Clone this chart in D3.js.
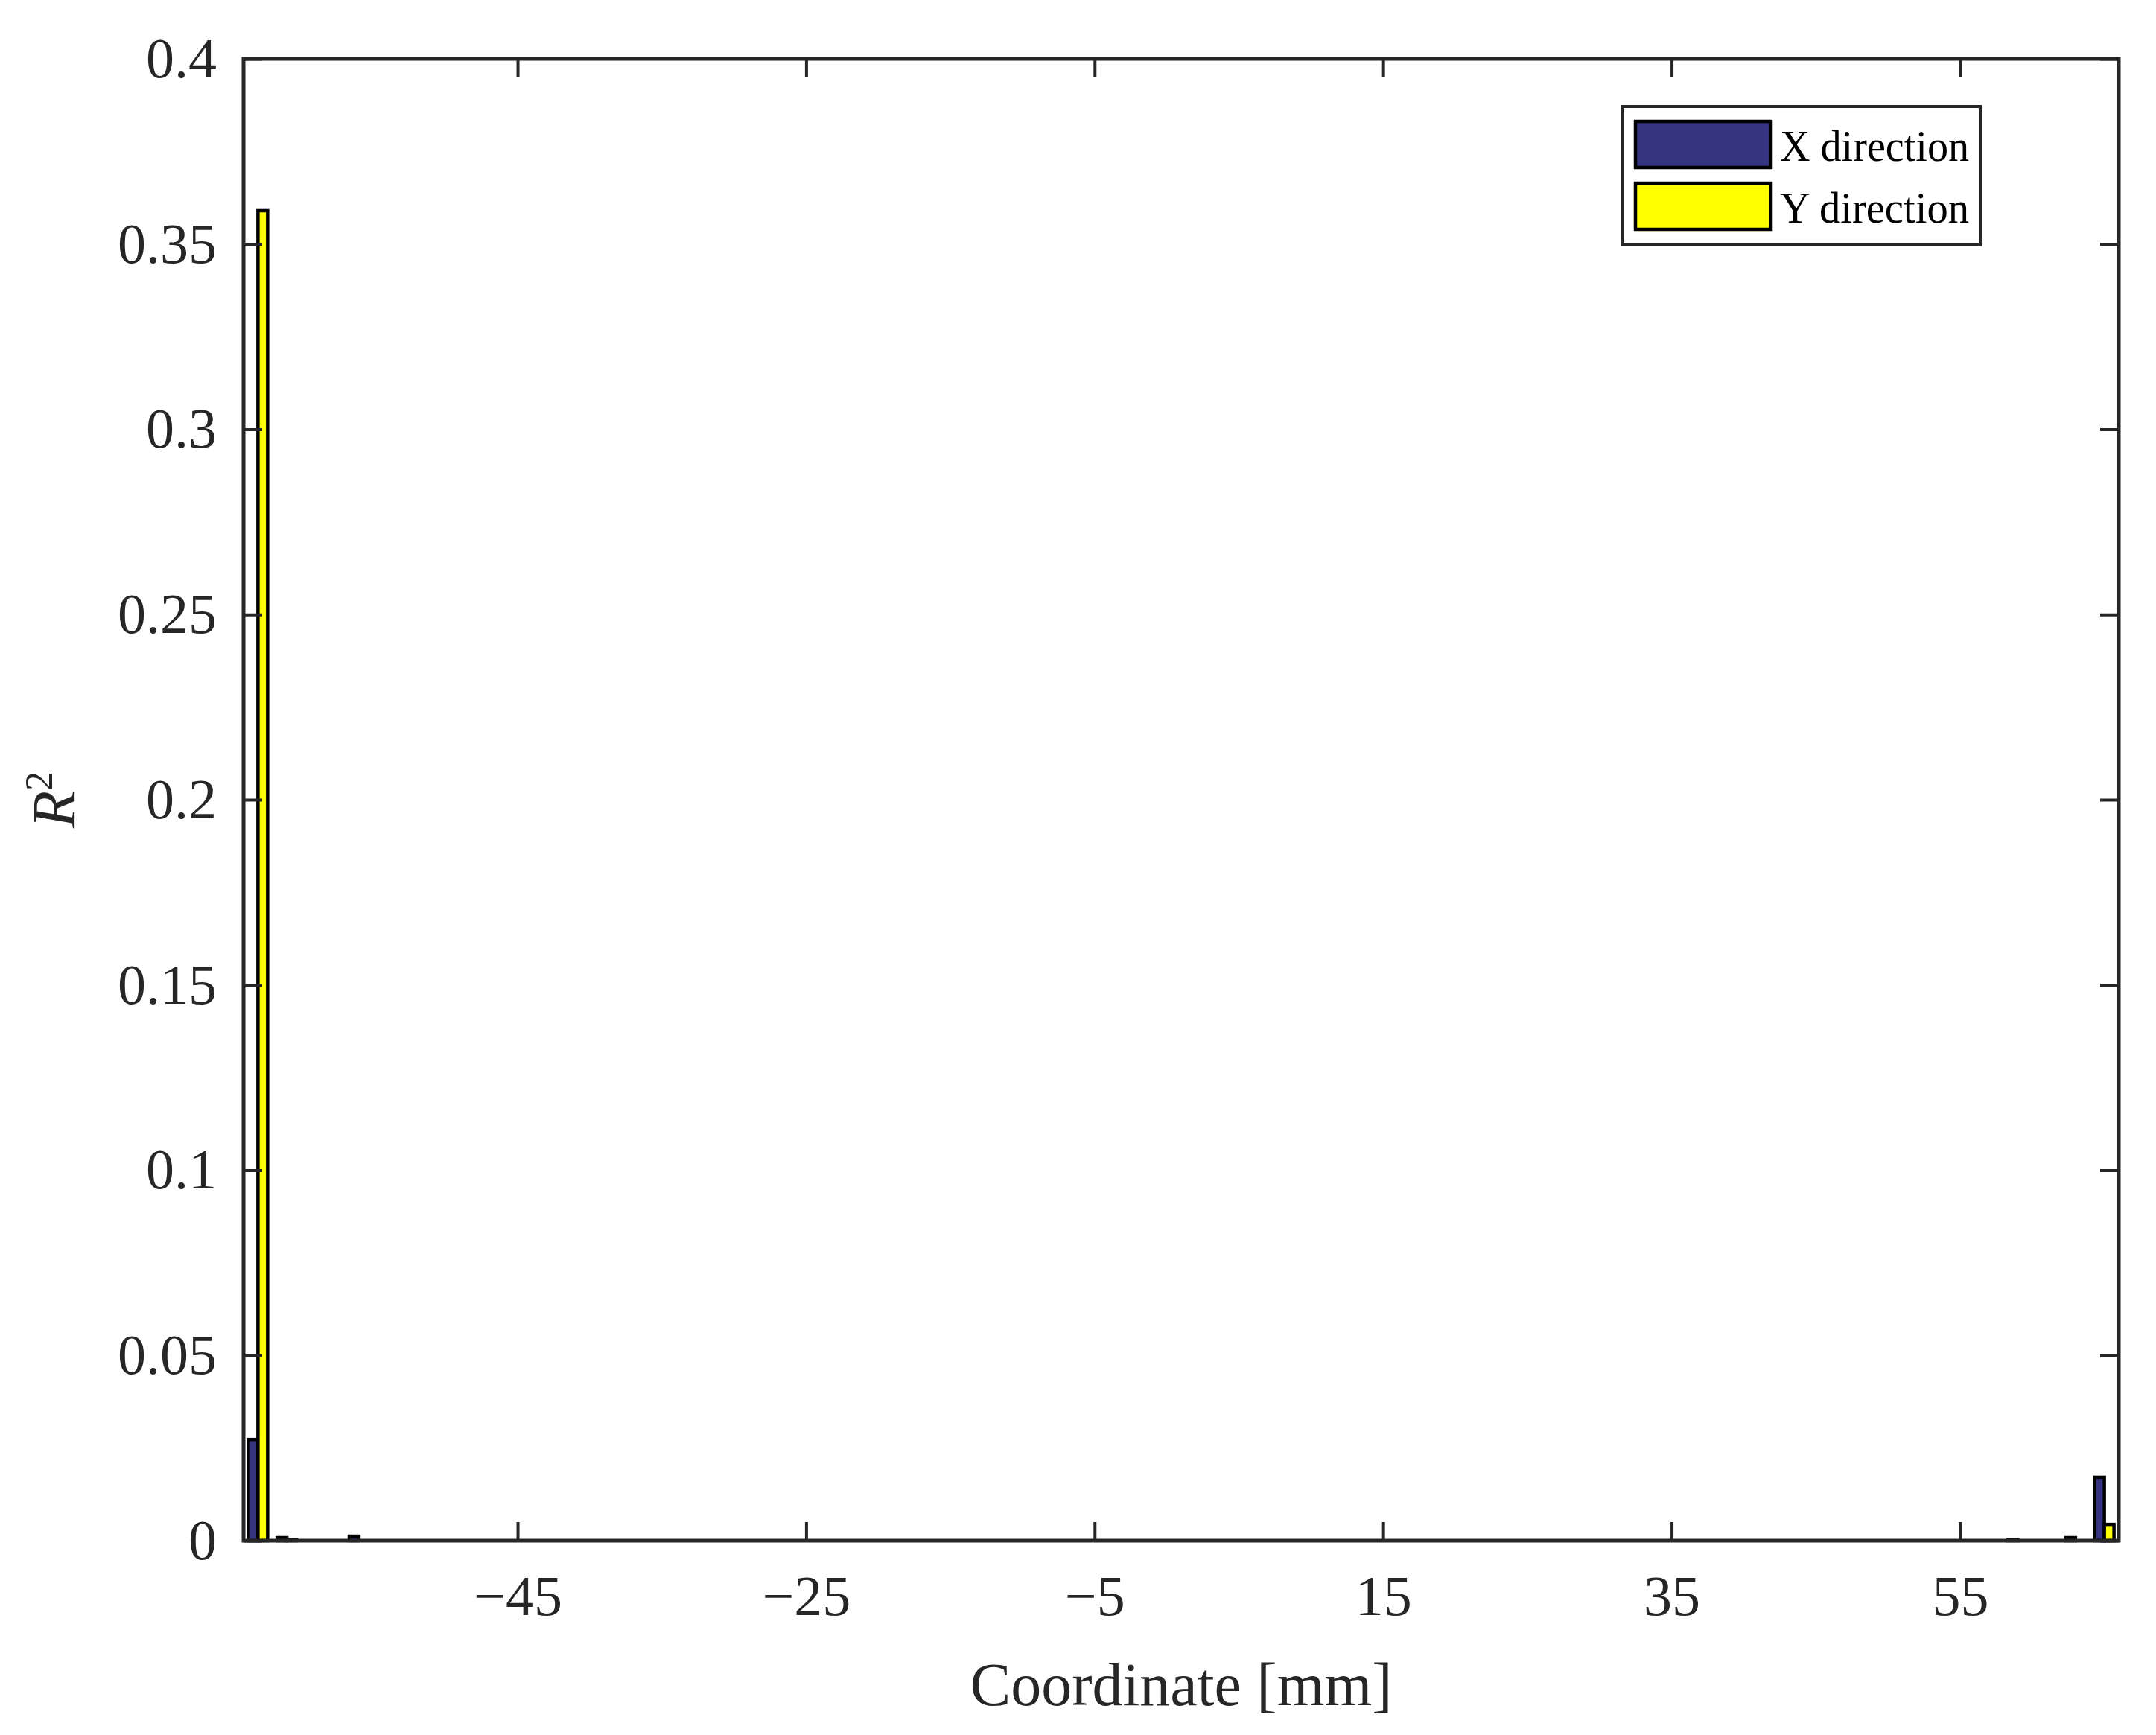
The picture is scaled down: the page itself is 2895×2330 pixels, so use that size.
<!DOCTYPE html>
<html>
<head>
<meta charset="utf-8">
<script src="https://cdn.jsdelivr.net/npm/d3@7"></script>
<style>
  body { margin: 0; background: #fff; }
  text { font-family: "Liberation Serif", "DejaVu Serif", serif; fill: #262626; }
</style>
</head>
<body>
<script>
// data
var coords = [-63, -61, -56, 59, 63, 65];
var xDir = [0.0273, 0.0008, 0.0012, 0.0003, 0.0008, 0.0171];
var yDir = [0.359, 0.0003, 0, 0, 0, 0.0044];
var seriesNames = ["X direction", "Y direction"];
var seriesColors = ["#35357f", "#ffff00"];
var xTicks = [-45, -25, -5, 15, 35, 55];
var yTicks = [0, 0.05, 0.1, 0.15, 0.2, 0.25, 0.3, 0.35, 0.4];

var svgWidth = 2895, svgHeight = 2330;
var margin = {top: 79, right: 50, bottom: 261, left: 327};
var width = svgWidth - margin.left - margin.right;
var height = svgHeight - margin.top - margin.bottom;

var svg = d3.select("body").append("svg")
  .attr("width", svgWidth).attr("height", svgHeight);
var g = svg.append("g").attr("transform", `translate(${margin.left},${margin.top})`);

var x = d3.scaleLinear().domain([-64, 66]).range([0, width]);
var y = d3.scaleLinear().domain([0, 0.4]).range([height, 0]);

// bars: group of two, 1.34 mm wide total
var barW = x(0.67) - x(0);
[xDir, yDir].forEach(function(vals, s) {
  g.selectAll(".bar" + s).data(coords).enter().append("rect")
    .attr("x", (d, i) => x(d) - barW + s * barW)
    .attr("y", (d, i) => y(vals[i]))
    .attr("width", barW)
    .attr("height", (d, i) => y(0) - y(vals[i]))
    .attr("fill", seriesColors[s])
    .attr("stroke", "#000")
    .attr("stroke-width", 4.5);
});

// axes
var tick = 25;
function styleAxis(sel) {
  sel.selectAll("path").remove();
  sel.selectAll("line").attr("stroke", "#262626").attr("stroke-width", 4);
  sel.selectAll("text").attr("font-size", 76);
}
g.append("g").attr("transform", `translate(0,${height})`)
  .call(d3.axisBottom(x).tickValues(xTicks).tickSizeInner(-tick).tickSizeOuter(0).tickPadding(46)
    .tickFormat(d => d < 0 ? "\u2212" + Math.abs(d) : d))
  .call(styleAxis);
g.append("g")
  .call(d3.axisTop(x).tickValues(xTicks).tickSizeInner(-tick).tickSizeOuter(0).tickFormat(""))
  .call(styleAxis);
g.append("g")
  .call(d3.axisLeft(y).tickValues(yTicks).tickSizeInner(-tick).tickSizeOuter(0).tickPadding(36)
    .tickFormat(d => String(d)))
  .call(styleAxis);
g.append("g").attr("transform", `translate(${width},0)`)
  .call(d3.axisRight(y).tickValues(yTicks).tickSizeInner(-tick).tickSizeOuter(0).tickFormat(""))
  .call(styleAxis);

g.append("rect").attr("width", width).attr("height", height)
  .attr("fill", "none").attr("stroke", "#262626").attr("stroke-width", 5);

// labels
svg.append("text")
  .attr("x", margin.left + width / 2).attr("y", 2290)
  .attr("text-anchor", "middle").attr("font-size", 82)
  .text("Coordinate [mm]");
svg.append("text")
  .attr("transform", `translate(100,${margin.top + height / 2}) rotate(-90)`)
  .attr("text-anchor", "middle").attr("font-size", 82).attr("font-style", "italic")
  .html('R<tspan dy="-30" font-size="52" font-style="normal">2</tspan>');

// legend
var leg = svg.append("g").attr("transform", "translate(2178,143)");
leg.append("rect").attr("width", 481).attr("height", 186)
  .attr("fill", "#fff").attr("stroke", "#262626").attr("stroke-width", 4);
seriesNames.forEach(function(name, i) {
  leg.append("rect").attr("x", 18).attr("y", 20 + i * 83).attr("width", 182).attr("height", 62)
    .attr("fill", seriesColors[i]).attr("stroke", "#000").attr("stroke-width", 4.5);
  leg.append("text").attr("x", 212).attr("y", 73 + i * 83)
    .attr("font-size", 60).attr("textLength", 254).attr("lengthAdjust", "spacingAndGlyphs")
    .style("fill", "#000").text(name);
});
</script>
</body>
</html>
